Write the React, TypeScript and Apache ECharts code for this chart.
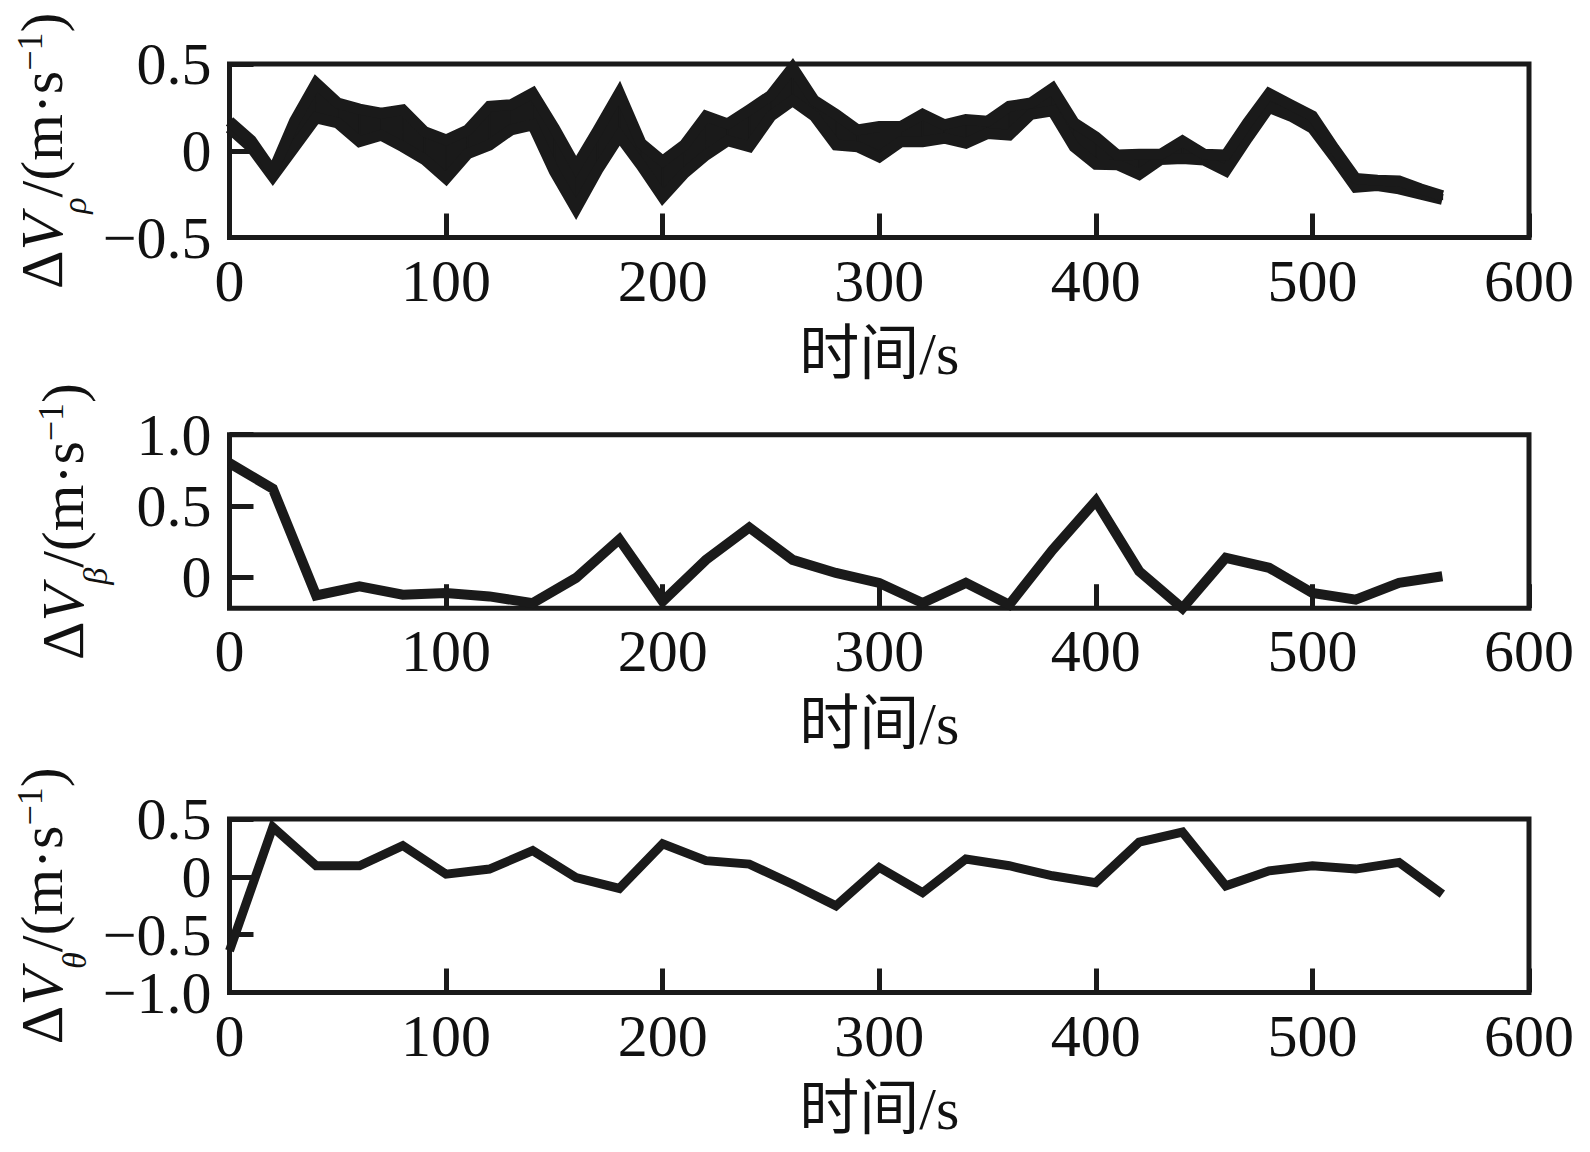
import React, { useEffect, useRef } from "react";
import * as echarts from "echarts";

// ---- data ----
const time10 = [
  0, 10, 20, 30, 40, 50, 60, 70, 80, 90, 100, 110, 120, 130, 140, 150, 160, 170, 180, 190,
  200, 210, 220, 230, 240, 250, 260, 270, 280, 290, 300, 310, 320, 330, 340, 350, 360, 370,
  380, 390, 400, 410, 420, 430, 440, 450, 460, 470, 480, 490, 500, 510, 520, 530, 540, 550, 560,
];
const time20 = [
  0, 20, 40, 60, 80, 100, 120, 140, 160, 180, 200, 220, 240, 260, 280, 300, 320, 340, 360, 380,
  400, 420, 440, 460, 480, 500, 520, 540, 560,
];
const rhoUpper = [
  0.17, 0.06, -0.12, 0.17, 0.39, 0.275, 0.24, 0.217, 0.236, 0.11, 0.062, 0.12, 0.256, 0.265,
  0.333, 0.13, -0.093, 0.116, 0.333, 0.043, -0.06, 0.033, 0.2, 0.155, 0.236, 0.32, 0.48, 0.29,
  0.21, 0.12, 0.14, 0.14, 0.21, 0.15, 0.18, 0.17, 0.256, 0.275, 0.36, 0.16, 0.08, -0.025, -0.02,
  -0.02, 0.056, -0.02, -0.025, 0.16, 0.33, 0.265, 0.2, 0.014, -0.16, -0.17, -0.174, -0.22, -0.26,
];
const rhoLower = [
  0.13, 0.02, -0.15, 0.02, 0.19, 0.16, 0.052, 0.09, 0.023, -0.05, -0.16, -0.016, 0.033, 0.12,
  0.149, -0.12, -0.335, -0.11, 0.085, -0.083, -0.267, -0.13, -0.025, 0.058, 0.023, 0.2, 0.29, 0.2,
  0.033, 0.023, -0.035, 0.052, 0.052, 0.072, 0.043, 0.1, 0.09, 0.21, 0.23, 0.023, -0.078, -0.08,
  -0.136, -0.05, -0.045, -0.054, -0.116, 0.072, 0.25, 0.2, 0.13, -0.035, -0.21, -0.2, -0.22, -0.25,
  -0.28,
];
const betaValues = [
  0.8, 0.62, -0.13, -0.066, -0.125, -0.113, -0.137, -0.184, -0.007, 0.264, -0.172, 0.12, 0.347,
  0.12, 0.028, -0.042, -0.184, -0.042, -0.196, 0.19, 0.535, 0.04, -0.22, 0.134, 0.064, -0.113,
  -0.16, -0.042, 0.005,
];
const thetaValues = [
  -0.64, 0.43, 0.096, 0.096, 0.27, 0.023, 0.067, 0.227, -0.006, -0.1, 0.285, 0.14, 0.11, -0.064,
  -0.25, 0.081, -0.137, 0.154, 0.096, 0.009, -0.05, 0.3, 0.387, -0.078, 0.052, 0.096, 0.067, 0.125,
  -0.15,
];
const xTicks = [0, 100, 200, 300, 400, 500, 600];
const rhoYTicks = [-0.5, 0, 0.5];
const betaYTicks = [0, 0.5, 1.0];
const thetaYTicks = [-1.0, -0.5, 0, 0.5];
const xName = "时间/s";
const rhoName = "{a|Δ}{i|V}{sub|ρ}{a|/(m·s}{sup|−1}{a|)}";
const betaName = "{a|Δ}{i|V}{sub|β}{a|/(m·s}{sup|−1}{a|)}";
const thetaName = "{a|Δ}{i|V}{sub|θ}{a|/(m·s}{sup|−1}{a|)}";

// ---- style ----
const INK = "#1a1a1a";
const TXT = "#111111";
const FONT = "'Liberation Serif', 'Times New Roman', 'Noto Sans CJK SC', serif";
const LEFT = 229.5;
const WIDTH = 1299.5;
const HEIGHT = 173.5;
const TOPS = [64, 434.7, 819];

const fmtY = (v: number) => {
  if (Math.abs(v) < 1e-9) return "0";
  const s = Math.abs(v).toFixed(1);
  return v < 0 ? "−" + s : s;
};

const richName = {
  a: { fontFamily: FONT, fontSize: 60, lineHeight: 60, verticalAlign: "top", color: TXT },
  i: { fontFamily: FONT, fontSize: 60, lineHeight: 60, verticalAlign: "top", fontStyle: "italic", color: TXT },
  sub: {
    fontFamily: FONT,
    fontSize: 34,
    lineHeight: 34,
    verticalAlign: "top",
    fontStyle: "italic",
    padding: [46, 0, 0, 0],
    color: TXT,
  },
  sup: { fontFamily: FONT, fontSize: 36, lineHeight: 36, verticalAlign: "top", color: TXT },
};

function buildOption() {
  const grids = TOPS.map((top) => ({
    left: LEFT,
    top,
    width: WIDTH,
    height: HEIGHT,
    show: true,
    borderColor: INK,
    borderWidth: 5,
    backgroundColor: "transparent",
    containLabel: false,
  }));

  const xAxes = TOPS.map((_, i) => ({
    gridIndex: i,
    type: "value",
    min: 0,
    max: 600,
    axisLine: { show: false, onZero: false },
    axisTick: { inside: true, length: 24, lineStyle: { width: 5, color: INK }, customValues: xTicks },
    axisLabel: {
      customValues: xTicks,
      margin: 13,
      fontSize: 60,
      lineHeight: 60,
      fontFamily: FONT,
      color: TXT,
      hideOverlap: false,
      showMinLabel: true,
      showMaxLabel: true,
    },
    splitLine: { show: false },
    name: xName,
    nameLocation: "middle",
    nameGap: 86,
    nameTextStyle: { fontSize: 60, lineHeight: 60, fontFamily: FONT, color: TXT },
  }));

  // the θ panel's labels are close together: split them over two overlaid left axes
  const thetaA = thetaYTicks.filter((_, k) => k % 2 === 0);
  const thetaB = thetaYTicks.filter((_, k) => k % 2 === 1);

  const yDefs = [
    { grid: 0, min: -0.5, max: 0.5, ticks: rhoYTicks, name: rhoName },
    { grid: 1, min: -0.22, max: 1.0, ticks: betaYTicks, name: betaName },
    { grid: 2, min: -1.0, max: 0.5, ticks: thetaA, name: thetaName },
    { grid: 2, min: -1.0, max: 0.5, ticks: thetaB, name: "" },
  ];
  const yAxes = yDefs.map((d) => ({
    gridIndex: d.grid,
    type: "value",
    position: "left",
    offset: 0,
    min: d.min,
    max: d.max,
    axisLine: { show: false, onZero: false },
    axisTick: { inside: true, length: 24, lineStyle: { width: 5, color: INK }, customValues: d.ticks },
    axisLabel: {
      customValues: d.ticks,
      formatter: fmtY,
      margin: 18,
      fontSize: 60,
      lineHeight: 44,
      fontFamily: FONT,
      color: TXT,
      hideOverlap: false,
      showMinLabel: true,
      showMaxLabel: true,
    },
    splitLine: { show: false },
    name: d.name,
    nameLocation: "middle",
    nameRotate: 90,
    nameGap: 137,
    nameTextStyle: { fontFamily: FONT, fontSize: 60, color: TXT, rich: richName },
  }));

  const lineBase = {
    type: "line",
    symbol: "none",
    clip: false,
    silent: true,
    lineStyle: { color: INK, width: 10, join: "miter", miterLimit: 4, cap: "butt" },
  };

  // one quadrilateral per interval between the upper and lower ρ curves
  const bandData = time10.slice(0, -1).map((t, k) => [
    t,
    time10[k + 1],
    rhoUpper[k],
    rhoUpper[k + 1],
    rhoLower[k],
    rhoLower[k + 1],
  ]);

  const series: any[] = [
    {
      type: "custom",
      name: "band",
      xAxisIndex: 0,
      yAxisIndex: 0,
      silent: true,
      clip: false,
      encode: { x: [0, 1], y: [2, 3, 4, 5] },
      data: bandData,
      renderItem: (params: any, api: any) => {
        const a = api.coord([api.value(0), api.value(2)]);
        const b = api.coord([api.value(1), api.value(3)]);
        const c = api.coord([api.value(1), api.value(5)]);
        const d = api.coord([api.value(0), api.value(4)]);
        return {
          type: "polygon",
          shape: { points: [a, b, c, d] },
          style: { fill: INK, stroke: INK, lineWidth: 1.5 },
        };
      },
    },
    {
      ...lineBase,
      name: "lower",
      xAxisIndex: 0,
      yAxisIndex: 0,
      lineStyle: { ...lineBase.lineStyle, width: 11 },
      data: time10.map((t, k) => [t, rhoLower[k]]),
    },
    {
      ...lineBase,
      name: "upper",
      xAxisIndex: 0,
      yAxisIndex: 0,
      lineStyle: { ...lineBase.lineStyle, width: 11 },
      data: time10.map((t, k) => [t, rhoUpper[k]]),
    },
    {
      ...lineBase,
      name: "beta",
      xAxisIndex: 1,
      yAxisIndex: 1,
      data: time20.map((t, k) => [t, betaValues[k]]),
    },
    {
      ...lineBase,
      name: "theta",
      xAxisIndex: 2,
      yAxisIndex: 2,
      lineStyle: { ...lineBase.lineStyle, width: 9 },
      data: time20.map((t, k) => [t, thetaValues[k]]),
    },
  ];

  return {
    animation: false,
    backgroundColor: "#ffffff",
    grid: grids,
    xAxis: xAxes,
    yAxis: yAxes,
    series,
  };
}

export default function App() {
  const ref = useRef<HTMLDivElement>(null);
  useEffect(() => {
    document.body.style.margin = "0";
    if (!ref.current) return;
    const chart = echarts.init(ref.current, undefined, { renderer: "svg" });
    chart.setOption(buildOption() as any);
    return () => chart.dispose();
  }, []);
  return (
    <div
      ref={ref}
      style={{ position: "absolute", left: 0, top: 0, width: 1590, height: 1152, background: "#fff" }}
    />
  );
}
